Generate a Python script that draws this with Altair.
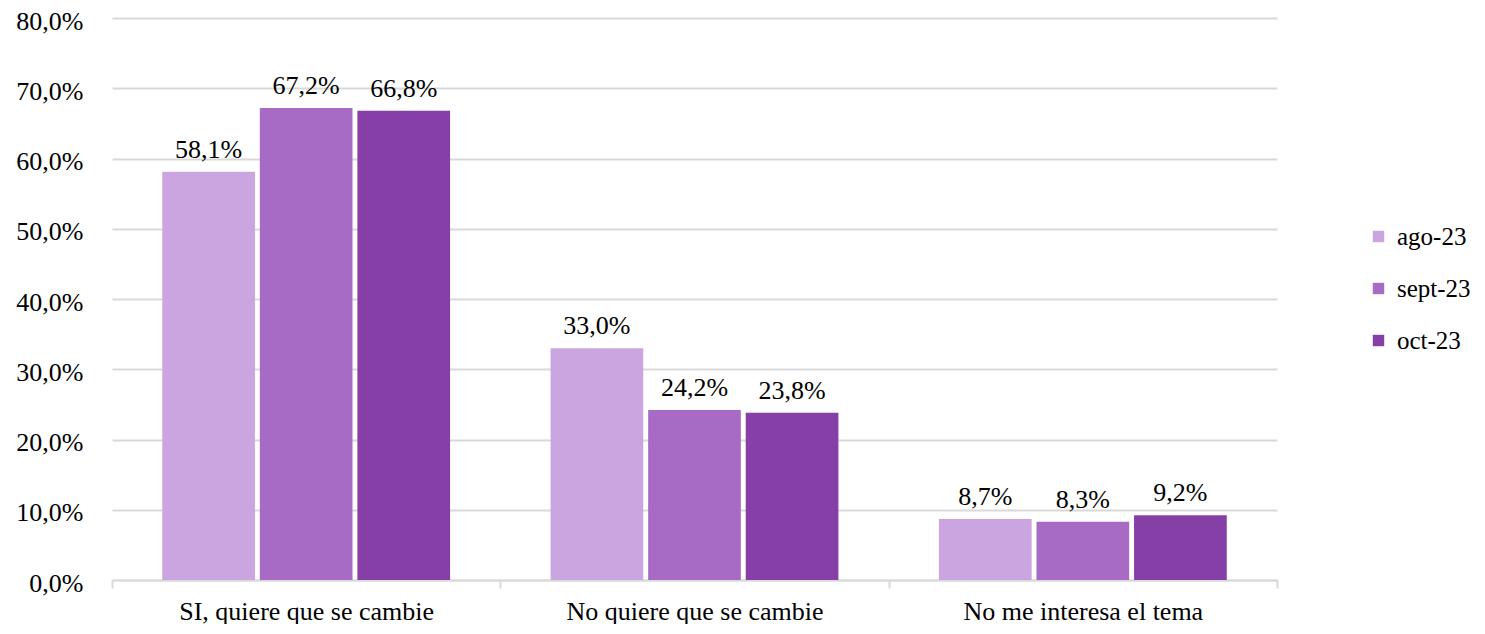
import altair as alt
import pandas as pd

categories = ["SI, quiere que se cambie", "No quiere que se cambie", "No me interesa el tema"]
series = ["ago-23", "sept-23", "oct-23"]
ago = [58.1, 33.0, 8.7]
sept = [67.2, 24.2, 8.3]
octv = [66.8, 23.8, 9.2]
colors = ["#CBA5DF", "#A86BC5", "#863FA7"]

rows = []
for s, vals in zip(series, [ago, sept, octv]):
    for c, v in zip(categories, vals):
        rows.append({"cat": c, "serie": s, "val": v,
                     "lab": f"{v:.1f}".replace(".", ",") + "%"})
df = pd.DataFrame(rows)

FONT = "Liberation Serif"
FS = 26

x = alt.X("cat:N", sort=categories, title=None,
          scale=alt.Scale(paddingInner=0, paddingOuter=0),
          axis=alt.Axis(labelAngle=0, labelFontSize=FS, labelFont=FONT, labelColor="#000",
                        labelPadding=10, labelLimit=0, domainColor="#d9d9d9", domainWidth=2,
                        tickColor="#d9d9d9", tickWidth=2, tickSize=8, tickBand="extent",
                        grid=False))
xo = alt.XOffset("serie:N", sort=series,
                 scale=alt.Scale(paddingInner=0.05, paddingOuter=0.515))
y = alt.Y("val:Q", title=None,
          scale=alt.Scale(domain=[0, 80], nice=False),
          axis=alt.Axis(values=[0, 10, 20, 30, 40, 50, 60, 70, 80],
                        labelExpr="replace(format(datum.value,'.1f'),'.',',')+'%'",
                        labelFontSize=FS, labelFont=FONT, labelColor="#000", labelPadding=29,
                        labelOffset=3,
                        domain=False, ticks=False, gridColor="#d9d9d9", gridWidth=2))

bars = alt.Chart(df).mark_bar().encode(
    x=x, xOffset=xo, y=y,
    color=alt.Color("serie:N", sort=series, title=None,
                    scale=alt.Scale(domain=series, range=colors),
                    legend=alt.Legend(orient="none", legendX=1254, legendY=206,
                                      symbolType="square", symbolSize=130,
                                      symbolStrokeWidth=0, labelFontSize=25,
                                      labelFont=FONT, labelColor="#000",
                                      rowPadding=26, labelOffset=6, labelLimit=0))
)
text = alt.Chart(df).mark_text(baseline="bottom", dy=-9, fontSize=FS, font=FONT,
                               color="#000").encode(
    x=alt.X("cat:N", sort=categories), xOffset=alt.XOffset("serie:N", sort=series),
    y="val:Q", text="lab:N")

chart = (bars + text).properties(
    width=1165, height=562,
    autosize=alt.AutoSizeParams(type="none"),
    padding={"left": 104, "top": 10, "right": 199, "bottom": 44},
).configure_view(stroke=None)

chart.save("out.html", embed_options={"renderer": "svg", "actions": False})
